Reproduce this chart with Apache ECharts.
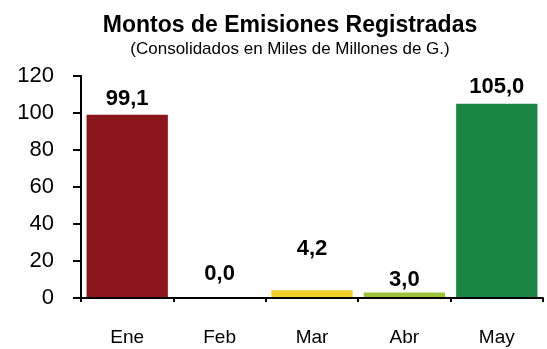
<!DOCTYPE html>
<html>
<head>
<meta charset="utf-8">
<script src="https://cdn.jsdelivr.net/npm/echarts@6/dist/echarts.min.js"></script>
<style>
  html, body { margin: 0; padding: 0; background: #fff; }
  #chart { width: 547px; height: 349px; }
</style>
</head>
<body>
<div id="chart"></div>
<script>
// Monthly registered issuance amounts (thousands of millions of G.)
const months = ['Ene', 'Feb', 'Mar', 'Abr', 'May'];
const amounts = [99.1, 0.0, 4.2, 3.0, 105.0];
const yTicks = [0, 20, 40, 60, 80, 100, 120];

// One fill per month
const barColors = ['#8B161B', '#8B161B', '#F2D22A', '#9CC43A', '#1B8643'];
// Gap between each bar top and its value label
const labelGaps = [5, 13, 30, 2, 6];

const chart = echarts.init(document.getElementById('chart'));
const font = 'Liberation Sans, Arial, sans-serif';

chart.setOption({
  animation: false,
  backgroundColor: '#ffffff',
  title: [
    {
      text: 'Montos de Emisiones Registradas',
      left: 285, top: 9, textAlign: 'center',
      textStyle: { fontFamily: font, fontSize: 23, fontWeight: 'bold', color: '#000' }
    },
    {
      text: '(Consolidados en Miles de Millones de G.)',
      left: 285, top: 36, textAlign: 'center',
      textStyle: { fontFamily: font, fontSize: 17, fontWeight: 'normal', color: '#000' }
    }
  ],
  grid: { left: 81, right: 4, top: 76, bottom: 51, containLabel: false },
  xAxis: {
    type: 'category',
    data: months,
    boundaryGap: true,
    axisLine: { lineStyle: { color: '#000', width: 2 } },
    axisTick: { show: true, length: 4, alignWithLabel: false, lineStyle: { color: '#000', width: 2 } },
    axisLabel: { fontFamily: font, fontSize: 19, color: '#000', margin: 30 },
    z: 10
  },
  yAxis: {
    type: 'value',
    min: yTicks[0],
    max: yTicks[yTicks.length - 1],
    interval: yTicks[1] - yTicks[0],
    axisLine: { show: true, lineStyle: { color: '#000', width: 2 } },
    axisTick: { show: true, inside: false, length: 8, lineStyle: { color: '#000', width: 2 } },
    axisLabel: { fontFamily: font, fontSize: 22, color: '#000', margin: 27 },
    splitLine: { show: false },
    z: 10
  },
  series: [{
    type: 'bar',
    barCategoryGap: '12%',
    data: amounts.map((v, i) => ({
      value: v,
      itemStyle: { color: barColors[i] },
      label: { distance: labelGaps[i] }
    })),
    label: {
      show: true,
      position: 'top',
      fontFamily: font,
      fontSize: 22,
      fontWeight: 'bold',
      color: '#000',
      formatter: p => p.value.toFixed(1).replace('.', ',')
    },
    z: 2
  }]
});
</script>
</body>
</html>
